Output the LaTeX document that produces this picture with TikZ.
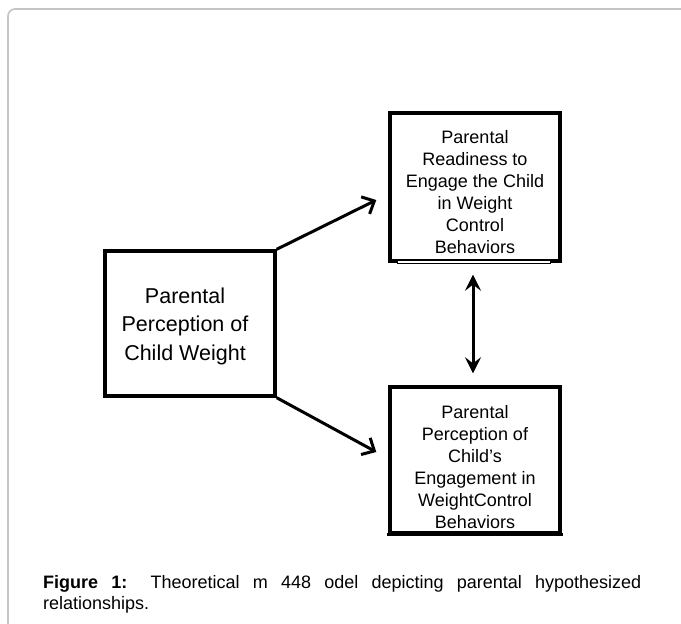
\documentclass[tikz,border=0pt]{standalone}
\usepackage{fontspec}
\setmainfont{Liberation Sans}
\usetikzlibrary{arrows.meta,calc}
\definecolor{framegray}{HTML}{C4C4C4}
\tikzset{
  boxnode/.style={draw=black, line width=3.4pt, inner sep=0pt, fill=white},
  boxtext/.style={anchor=base, inner sep=0pt},
  diagarrow/.style={line width=3pt, -{Straight Barb[length=10pt,width=19pt,line width=3pt]}},
  bothway/.style={line width=3pt, {Stealth[length=16pt,width=16pt,inset=6pt]}-{Stealth[length=16pt,width=16pt,inset=6pt]}},
}
\begin{document}
\begin{tikzpicture}[x=1pt,y=-1pt]
\useasboundingbox (0,0) rectangle (681,624);
% page frame
\draw[framegray, line width=1.6pt, rounded corners=7pt] (8,630) -- (8,9) -- (690,9) -- (690,40);

% boxes
\node[boxnode, minimum width=170pt, minimum height=145pt] (left) at (190,323.5) {};
\node[boxnode, minimum width=170pt, minimum height=148pt] (top) at (475,187) {};
\node[boxnode, minimum width=170pt, minimum height=146pt] (bot) at (475,460) {};

% odd thin bottom edge of the top box
\fill[white] ([xshift=10pt,yshift=-1.8pt]top.south west) rectangle ([xshift=-12pt,yshift=1.8pt]top.south east);
\draw[black, line width=1pt] ([xshift=9pt,yshift=-0.8pt]top.south west) -- ([xshift=-11pt,yshift=-0.8pt]top.south east);

% texts
\node[boxtext] (lefttext) at (185,303) {\parbox[t]{170pt}{\centering\fontsize{21.5pt}{28.5pt}\selectfont Parental\\Perception of\\Child Weight}};
\node[boxtext] (toptext) at (475,143) {\parbox[t]{170pt}{\centering\fontsize{18pt}{22pt}\selectfont Parental\\Readiness to\\Engage the Child\\in Weight\\Control\\Behaviors}};
\node[boxtext] (bottext) at (475,418) {\parbox[t]{170pt}{\centering\fontsize{18pt}{22pt}\selectfont Parental\\Perception of\\Child’s\\Engagement in\\ WeightControl\\Behaviors}};
% redraw bottom edge of lower box over the text
\draw[black, line width=3.4pt] ([xshift=-1.7pt]bot.south west) -- ([xshift=1.7pt]bot.south east);

% connectors
\draw[diagarrow] (left.north east) -- ($(top.west)+(-12,13)$);
\draw[diagarrow] (left.south east) -- ($(bot.west)+(-12,-8)$);
\draw[bothway] ($(top.south)+(-2,12)$) -- ($(bot.north)+(-2,-12)$);

% caption
\node[anchor=base west, inner sep=0pt] (caption) at (43,588) {\parbox[t]{598pt}{\fontsize{18pt}{21.5pt}\selectfont\raggedright\rightskip=0pt plus 0pt\parfillskip=0pt plus 1fil\spaceskip=5pt plus 30pt\textbf{Figure 1:} Theoretical m 448 odel depicting parental hypothesized\linebreak relationships.}};
\end{tikzpicture}
\end{document}
